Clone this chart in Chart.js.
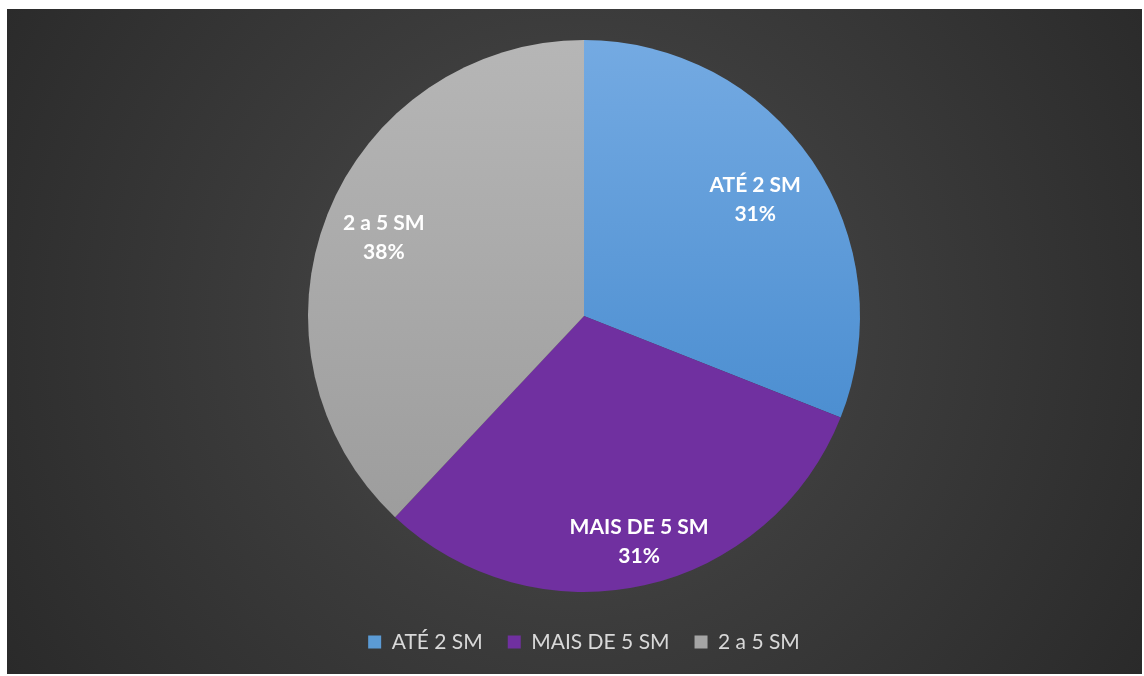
<!DOCTYPE html>
<html>
<head>
<meta charset="utf-8">
<script src="https://cdn.jsdelivr.net/npm/chart.js@4"></script>
<style>
  html, body { margin: 0; padding: 0; background: #ffffff; }
  #wrap {
    position: absolute; left: 7px; top: 9px; width: 1135px; height: 665px;
    background: radial-gradient(circle at 50% 47%, #4e4e4e 0%, #3c3c3c 45%, #2a2a2a 100%);
  }
</style>
</head>
<body>
<div id="wrap"><canvas id="pieChart"></canvas></div>
<script>
const categories = ['ATÉ 2 SM', 'MAIS DE 5 SM', '2 a 5 SM'];
const values = [31, 31, 38];
const labelRadius = [0.75, 0.84, 0.78];
const labelShift = [0, 0.02, 0];

document.addEventListener('DOMContentLoaded', () => {
    const canvas = document.getElementById('pieChart');
    if (!canvas) return;
    const ctx = canvas.getContext('2d');

    const sliceFill = (context) => {
        const area = context.chart.chartArea;
        const i = context.dataIndex;
        if (!area) return '#888';
        const g = context.chart.ctx.createLinearGradient(0, 31, 0, 583);
        if (i === 0) {
            g.addColorStop(0, '#74aae2');
            g.addColorStop(1, '#3a82c9');
            return g;
        }
        if (i === 1) return '#7030a0';
        g.addColorStop(0, '#b6b6b6');
        g.addColorStop(1, '#999999');
        return g;
    };

    const legendFill = ['#5b9bd5', '#7030a0', '#a5a5a5'];

    const sliceLabels = {
        id: 'sliceLabels',
        afterDatasetsDraw(chart) {
            const c = chart.ctx;
            const total = values.reduce((a, b) => a + b, 0);
            chart.getDatasetMeta(0).data.forEach((arc, i) => {
                const p = arc.getProps(['x', 'y', 'startAngle', 'endAngle', 'outerRadius'], true);
                const mid = (p.startAngle + p.endAngle) / 2 - labelShift[i];
                const r = p.outerRadius * labelRadius[i];
                const x = p.x + Math.cos(mid) * r;
                const y = p.y + Math.sin(mid) * r;
                c.save();
                c.fillStyle = '#ffffff';
                c.font = 'bold 21px Lato, "Open Sans", sans-serif';
                c.textAlign = 'center';
                c.textBaseline = 'middle';
                c.fillText(categories[i], x, y - 14);
                c.fillText(Math.round(values[i] / total * 100) + '%', x, y + 15);
                c.restore();
            });
        }
    };

    new Chart(ctx, {
        type: 'pie',
        data: {
            labels: categories,
            datasets: [{
                data: values,
                backgroundColor: sliceFill,
                borderWidth: 0
            }]
        },
        options: {
            responsive: true,
            maintainAspectRatio: false,
            animation: false,
            radius: 276,
            layout: { padding: { top: 16.5, left: 19, right: 0, bottom: 11.5 } },
            plugins: {
                tooltip: { enabled: false },
                legend: {
                    position: 'bottom',
                    labels: {
                        color: '#d9d9d9',
                        font: { size: 21, family: 'Lato, "Open Sans", sans-serif' },
                        boxWidth: 13,
                        boxHeight: 13,
                        padding: 25,
                        generateLabels: (chart) => categories.map((c, i) => ({
                            text: c,
                            fillStyle: legendFill[i],
                            strokeStyle: legendFill[i],
                            lineWidth: 0,
                            fontColor: '#d9d9d9',
                            index: i
                        }))
                    }
                }
            }
        },
        plugins: [sliceLabels]
    });
});
</script>
</body>
</html>
